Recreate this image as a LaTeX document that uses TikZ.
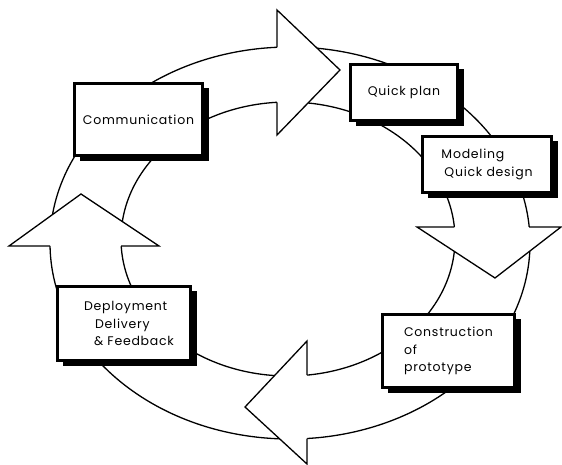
\documentclass[tikz,border=0pt]{standalone}
\usepackage{fontspec}
\setmainfont[LetterSpace=6]{Poppins}
\usetikzlibrary{shadows}
\begin{document}
\begin{tikzpicture}[x=1pt,y=-1pt,
  ring/.style={line width=1.3pt, line join=miter},
  headfill/.style={fill=white},
  box/.style={draw, line width=2.6pt, fill=white, inner sep=0pt,
    font=\fontsize{12.5}{17.5}\selectfont, align=left,
    drop shadow={shadow xshift=6pt, shadow yshift=-5pt, opacity=1, fill=black}}]
\useasboundingbox (0,0) rectangle (562,465);
% ring
\coordinate (oc) at (290,243);
\coordinate (ic) at (288,239);
\draw[ring] (oc) ellipse [x radius=240pt, y radius=196pt];
\draw[ring] (ic) ellipse [x radius=167pt, y radius=137pt];
% arrow heads
\coordinate (t1) at (277,10); \coordinate (t2) at (340,70); \coordinate (t3) at (277,135);
\fill[headfill] (t1) -- (t2) -- (t3) -- cycle;
\draw[ring] (277,47.3) -- (t1) -- (t2) -- (t3) -- (277,102.3);
\coordinate (d1) at (417,227); \coordinate (d2) at (495,278); \coordinate (d3) at (561,227);
\fill[headfill] (d1) -- (d2) -- (d3) -- cycle;
\draw[ring] (454.4,227) -- (d1) -- (d2) -- (d3) -- (529.2,227);
\coordinate (l1) at (307,341); \coordinate (l2) at (245,407); \coordinate (l3) at (307,464);
\fill[headfill] (l1) -- (l2) -- (l3) -- cycle;
\draw[ring] (307,375.1) -- (l1) -- (l2) -- (l3) -- (307,438.5);
\coordinate (u1) at (159,246); \coordinate (u2) at (81,194); \coordinate (u3) at (9,246);
\fill[headfill] (u1) -- (u2) -- (u3) -- cycle;
\draw[ring] (121.2,246) -- (u1) -- (u2) -- (u3) -- (50,246);
% boxes
\node[box, minimum width=128.4pt, minimum height=72.4pt] (comm) at (138.5,119.5) {Communication};
\node[box, minimum width=107.4pt, minimum height=56.4pt] (plan) at (404,92.5) {Quick plan};
\node[box, minimum width=129.4pt, minimum height=56.4pt] (model) at (487,164.5) {Modeling\\\hspace*{3pt}Quick design};
\node[box, minimum width=132.4pt, minimum height=73.4pt] (cons) at (448.5,351) {Construction\\of\\prototype};
\node[box, minimum width=133.4pt, minimum height=74.4pt] (dep) at (124,323.5) {\hspace*{10pt}Deployment\\\hspace*{21pt}Delivery\\\hspace*{20pt}\& Feedback};
\end{tikzpicture}
\end{document}
